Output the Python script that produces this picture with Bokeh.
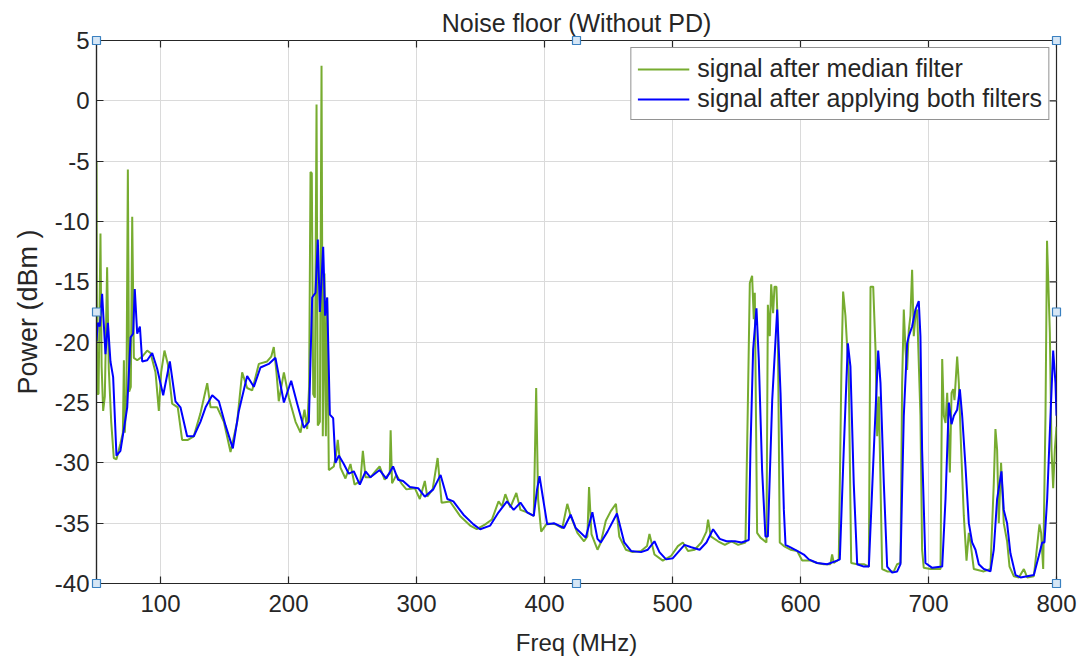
from bokeh.plotting import figure
from bokeh.models import Range1d, Legend, LegendItem, FixedTicker
from bokeh.embed import file_html
from bokeh.resources import INLINE

# ---------------- data ----------------
title_text = "Noise floor (Without PD)"
x_label = "Freq (MHz)"
y_label = "Power (dBm )"
series_names = ["signal after median filter", "signal after applying both filters"]

x_min, x_max = 50, 800
y_min, y_max = -40, 5
x_ticks = [100, 200, 300, 400, 500, 600, 700, 800]
y_ticks = [-40, -35, -30, -25, -20, -15, -10, -5, 0, 5]

freq_median = [
    50.0, 50.5, 51.6, 53.1, 54.0, 55.2, 56.5, 58.3, 59.6, 61.5, 63.5, 65.6, 68.7, 70.6, 71.4, 72.1,
    73.4, 74.5, 75.5, 76.8, 77.9, 79.2, 81.8, 85.7, 89.6, 92.2, 96.1, 98.7, 100.5, 103.1, 105.7,
    109.1, 113.5, 116.9, 121.4, 126.0, 131.2, 136.5, 139.1, 144.3, 149.5, 154.7, 159.9, 163.8,
    167.7, 171.6, 176.8, 183.3, 186.5, 188.5, 190.6, 192.4, 196.4, 200.3, 205.5, 209.4, 212.5,
    214.6, 216.1, 217.2, 218.2, 219.3, 220.6, 221.9, 222.9, 224.5, 225.8, 226.8, 228.1, 229.2,
    230.2, 231.5, 235.4, 237.2, 238.5, 240.6, 244.5, 248.4, 251.6, 256.2, 258.1, 260.2, 264.0,
    268.6, 271.2, 275.1, 277.7, 279.1, 279.8, 280.9, 284.3, 288.2, 292.1, 298.7, 302.6, 306.5,
    308.4, 312.6, 316.5, 319.6, 326.2, 334.0, 341.9, 347.1, 353.7, 358.9, 364.1, 366.8, 369.4,
    373.3, 378.0, 381.2, 386.4, 391.6, 393.5, 395.0, 397.4, 402.1, 408.6, 413.9, 417.8, 420.4,
    425.7, 430.9, 433.5, 434.8, 436.7, 441.4, 444.0, 447.9, 451.8, 455.8, 458.4, 463.6, 468.9,
    475.4, 480.1, 482.0, 485.9, 492.4, 499.0, 504.2, 508.1, 512.1, 517.3, 522.5, 526.5, 527.8,
    529.9, 535.6, 540.9, 546.1, 551.3, 557.0, 558.8, 560.4, 562.2, 563.5, 564.3, 566.1, 568.7,
    573.4, 574.5, 576.0, 577.1, 578.6, 579.7, 581.2, 582.3, 583.8, 587.0, 592.2, 597.4, 601.3,
    607.8, 613.0, 618.2, 623.4, 624.7, 626.0, 629.9, 632.0, 633.3, 635.1, 636.4, 637.7, 639.6,
    644.3, 649.5, 653.4, 654.7, 656.8, 658.6, 659.9, 661.2, 662.5, 663.8, 667.7, 672.9, 675.5,
    678.1, 679.4, 680.7, 682.0, 683.3, 684.6, 685.9, 687.2, 688.5, 689.8, 691.1, 693.7, 695.0,
    696.3, 701.5, 709.4, 710.7, 712.0, 713.3, 714.6, 716.7, 718.0, 719.3, 720.3, 722.4, 723.7,
    725.5, 727.6, 729.7, 731.5, 732.8, 735.4, 743.2, 748.4, 751.0, 752.3, 753.6, 754.9, 756.7,
    758.8, 761.4, 763.3, 766.7, 770.6, 774.5, 777.1, 782.3, 786.7, 788.0, 789.6, 791.4, 792.6,
    794.8, 796.1, 797.4, 798.7, 800.0,
]
power_median = [
    -5.0, -24.3, -24.3, -11.0, -22.0, -25.7, -24.5, -13.8, -22.2, -26.6, -29.6, -29.7, -28.4, -27.5, -21.5, -27.5,
    -24.3, -5.7, -24.1, -23.7, -9.6, -21.3, -21.5, -21.2, -20.7, -20.9, -22.5, -25.7, -22.5, -20.7, -21.8,
    -25.1, -25.4, -28.1, -28.1, -27.8, -25.9, -23.4, -25.4, -25.4, -26.6, -29.1, -26.6, -22.5,
    -23.8, -24.0, -21.8, -21.6, -21.2, -20.4, -22.5, -24.9, -22.5, -24.6, -26.6, -27.5, -25.6,
    -27.2, -23.7, -5.9, -6.0, -24.3, -24.6, -0.3, -26.9, -26.6, 2.9, -27.8, -14.3, -27.8,
    -16.3, -30.6, -30.3, -29.3, -28.1, -30.4, -31.3, -30.1, -31.8, -31.5, -29.0, -31.2, -31.2,
    -30.6, -30.3, -31.4, -31.0, -30.9, -27.3, -31.7, -31.0, -31.7, -32.2, -32.1, -33.0, -31.5,
    -32.8, -32.2, -29.6, -33.3, -33.2, -34.4, -35.2, -35.5, -35.1, -34.7, -33.2, -33.6, -32.6,
    -33.7, -32.5, -33.9, -34.1, -34.4, -23.8, -33.0, -35.7, -35.0, -35.1, -35.4, -33.4, -34.4,
    -35.8, -36.5, -36.1, -32.0, -35.9, -37.2, -36.6, -34.8, -34.0, -33.4, -36.1, -37.2, -37.4,
    -37.3, -36.9, -35.9, -37.6, -38.1, -37.7, -36.9, -36.6, -37.3, -37.2, -36.6, -35.7, -34.7,
    -36.1, -36.5, -36.8, -36.5, -36.8, -36.6, -25.6, -15.1, -14.5, -18.1, -15.9, -35.8, -36.2,
    -36.6, -16.9, -19.5, -15.2, -17.6, -15.4, -15.4, -19.0, -36.6, -36.9, -37.2, -37.3, -38.1,
    -38.1, -38.3, -38.4, -38.4, -37.6, -38.3, -38.0, -22.0, -15.8, -17.8, -20.3, -22.8, -38.3,
    -38.4, -38.4, -38.6, -15.4, -15.4, -20.6, -27.8, -24.5, -31.7, -38.8, -39.0, -39.0, -38.4,
    -38.3, -23.4, -17.3, -20.6, -22.3, -19.0, -17.8, -14.0, -19.5, -17.8, -17.3, -26.1, -37.2,
    -38.7, -38.8, -38.8, -21.4, -26.1, -26.7, -24.2, -30.8, -24.2, -23.9, -24.8, -21.2, -23.4,
    -28.9, -34.4, -38.1, -35.8, -36.6, -38.8, -39.0, -38.8, -31.7, -27.2, -28.9, -35.0, -30.0,
    -35.0, -36.5, -38.6, -39.4, -39.5, -38.8, -39.5, -39.4, -35.1, -35.8, -38.8, -26.1, -11.6,
    -19.2, -28.9, -32.1, -28.9, -27.0,
]

freq_both = [
    50.0, 51.0, 52.6, 54.4, 57.0, 58.9, 60.9, 63.0, 65.6, 68.7, 71.4, 74.0, 76.6, 78.6, 79.9, 81.8,
    83.9, 85.7, 89.6, 93.5, 97.4, 102.1, 107.3, 111.7, 115.6, 120.8, 126.0, 131.2, 135.2, 140.4,
    145.6, 150.8, 156.5, 161.2, 167.7, 172.9, 178.1, 184.6, 189.8, 196.4, 202.1, 206.8, 212.0,
    215.9, 218.5, 221.1, 222.9, 224.5, 227.1, 228.6, 230.2, 232.3, 234.9, 236.7, 239.3, 243.2,
    247.1, 251.0, 255.7, 260.2, 264.0, 271.2, 276.4, 281.7, 285.6, 289.5, 294.8, 301.3, 306.5,
    313.1, 318.8, 324.1, 328.8, 336.7, 344.5, 349.7, 357.6, 364.1, 370.7, 375.9, 381.2, 386.4,
    391.6, 394.2, 396.1, 398.2, 402.1, 407.3, 415.2, 420.4, 424.4, 432.2, 437.4, 441.4, 444.0,
    449.2, 456.6, 462.3, 467.6, 475.4, 480.7, 485.9, 489.8, 495.0, 500.3, 509.4, 514.7, 521.2,
    526.5, 531.7, 536.9, 542.2, 548.7, 554.0, 559.6, 560.9, 563.0, 565.6, 567.4, 570.0, 572.6,
    574.5, 577.9, 581.8, 584.4, 587.0, 588.3, 592.2, 597.4, 602.6, 606.5, 613.0, 620.8, 628.6,
    630.7, 633.8, 637.0, 639.0, 641.6, 644.3, 649.5, 653.4, 657.3, 660.7, 662.5, 665.1, 667.7,
    671.6, 675.5, 678.1, 680.7, 683.3, 684.6, 687.2, 689.8, 692.4, 693.7, 695.0, 697.6, 702.9,
    710.7, 713.3, 715.9, 718.0, 719.8, 722.4, 724.5, 726.3, 728.9, 731.5, 734.1, 736.7, 739.3,
    743.2, 748.4, 751.0, 753.6, 757.0, 758.8, 761.4, 764.0, 768.0, 771.9, 777.1, 782.3, 786.2,
    788.8, 790.6, 792.7, 795.3, 797.4, 799.2, 800.0,
]
power_both = [
    -19.9, -18.4, -18.7, -16.0, -21.0, -18.4, -21.6, -22.9, -29.4, -29.0, -27.2, -25.4, -19.6, -19.3, -15.6, -19.3,
    -18.7, -21.6, -21.5, -20.9, -22.2, -24.4, -21.6, -24.9, -25.4, -27.8, -27.8, -26.6, -25.4, -24.4,
    -24.9, -26.9, -28.8, -25.7, -22.8, -23.7, -22.1, -21.8, -21.3, -25.0, -23.2, -25.1, -27.1,
    -26.6, -16.3, -15.9, -11.5, -17.5, -12.1, -17.8, -16.3, -26.0, -26.3, -30.0, -29.4, -30.1,
    -30.9, -30.7, -31.8, -30.7, -31.2, -30.6, -31.3, -30.3, -31.4, -31.5, -32.0, -32.1, -32.8,
    -32.2, -31.0, -33.0, -33.2, -34.3, -35.1, -35.5, -35.2, -34.1, -33.2, -33.9, -33.3, -34.1,
    -34.4, -32.2, -31.1, -32.5, -35.1, -35.0, -35.4, -34.3, -35.4, -36.2, -34.1, -36.3, -36.6,
    -35.7, -34.2, -36.6, -37.3, -37.4, -37.2, -36.5, -37.4, -38.0, -37.9, -36.8, -37.0, -37.2,
    -36.6, -35.5, -36.3, -36.5, -36.5, -36.6, -36.4, -28.9, -20.6, -17.2, -21.4, -30.6, -36.1,
    -36.1, -24.8, -17.3, -24.2, -33.9, -36.8, -37.0, -37.3, -37.6, -38.0, -38.3, -38.4, -38.1,
    -38.0, -28.9, -20.1, -22.0, -31.7, -38.4, -38.6, -38.6, -28.9, -20.7, -23.4, -31.7, -38.6,
    -39.1, -39.0, -38.4, -26.1, -20.1, -19.5, -18.7, -17.3, -16.6, -19.5, -28.9, -38.3, -38.7,
    -38.6, -33.0, -25.0, -26.8, -26.1, -25.6, -23.9, -26.1, -30.3, -35.0, -36.6, -37.2, -38.4,
    -38.8, -39.0, -37.2, -33.0, -30.7, -33.9, -35.0, -37.5, -39.3, -39.5, -39.4, -39.3, -37.7,
    -36.6, -36.6, -33.0, -26.1, -20.7, -23.4, -26.1,
]

# ---------------- styling ----------------
FONT = "Liberation Sans"
INK = "#262626"
GREEN = "#77AC30"
BLUE = "#0000FF"

W, H = 1081, 662
B_LEFT, B_RIGHT, B_TOP, B_BOTTOM = 96, 25, 40, 79
TICK_PX = 7

p = figure(
    width=W, height=H,
    x_range=Range1d(x_min, x_max), y_range=Range1d(y_min, y_max),
    output_backend="svg", toolbar_location=None,
    min_border_left=B_LEFT, min_border_right=B_RIGHT,
    min_border_top=B_TOP, min_border_bottom=B_BOTTOM,
)
p.background_fill_color = "white"
p.border_fill_color = "white"
p.outline_line_color = INK
p.outline_line_width = 1.2

p.title.text = title_text
p.title.align = "center"
p.title.text_font = FONT
p.title.text_font_size = "25px"
p.title.text_font_style = "normal"
p.title.text_color = INK
p.title.standoff = 8

xa = p.xaxis[0]
ya = p.yaxis[0]
xa.ticker = FixedTicker(ticks=x_ticks)
ya.ticker = FixedTicker(ticks=y_ticks)
xa.major_label_overrides = {t: str(t) for t in x_ticks}
ya.major_label_overrides = {t: str(t) for t in y_ticks}
xa.axis_label = x_label
ya.axis_label = y_label
for ax in (xa, ya):
    ax.major_tick_in = TICK_PX
    ax.major_tick_out = 0
    ax.minor_tick_line_color = None
    ax.axis_line_color = INK
    ax.axis_line_width = 1.2
    ax.major_tick_line_color = INK
    ax.major_tick_line_width = 1.2
    ax.major_label_text_font = FONT
    ax.major_label_text_font_size = "24px"
    ax.major_label_text_color = INK
    ax.axis_label_text_font = FONT
    ax.axis_label_text_font_style = "normal"
    ax.axis_label_text_color = INK
xa.major_label_standoff = 11
xa.axis_label_text_font_size = "24px"
xa.axis_label_standoff = 14
ya.major_label_standoff = 7
ya.axis_label_text_font_size = "27px"
ya.axis_label_standoff = 9

p.xgrid.ticker = FixedTicker(ticks=x_ticks)
p.ygrid.ticker = FixedTicker(ticks=y_ticks)
p.grid.grid_line_color = "#dadada"
p.grid.grid_line_width = 1

# inward ticks on the top and right edges of the box (MATLAB "box on")
frame_w = W - B_LEFT - B_RIGHT
frame_h = H - B_TOP - B_BOTTOM
dx = TICK_PX * (x_max - x_min) / frame_w
dy = TICK_PX * (y_max - y_min) / frame_h
p.segment(x0=x_ticks, y0=[y_max] * len(x_ticks), x1=x_ticks, y1=[y_max - dy] * len(x_ticks),
          line_color=INK, line_width=1.2)
p.segment(x0=[x_max] * len(y_ticks), y0=y_ticks, x1=[x_max - dx] * len(y_ticks), y1=y_ticks,
          line_color=INK, line_width=1.2)

g = p.line(freq_median, power_median, line_color=GREEN, line_width=2)
b = p.line(freq_both, power_both, line_color=BLUE, line_width=2)

# selection handles on the axes box (corners and edge midpoints)
x_mid = (x_min + x_max) / 2
y_mid = (y_min + y_max) / 2
hx = [x_min, x_mid, x_max, x_min, x_max, x_min, x_mid, x_max]
hy = [y_max, y_max, y_max, y_mid, y_mid, y_min, y_min, y_min]
p.scatter(hx, hy, marker="square", size=8, fill_color="#d6e6f5", line_color="#3a80c0",
          line_width=1.2, level="overlay")

legend = Legend(
    items=[LegendItem(label=series_names[0], renderers=[g]),
           LegendItem(label=series_names[1], renderers=[b])],
    location="top_right",
    margin=7,
    padding=6,
    spacing=1,
    glyph_width=52,
    glyph_height=26,
    label_height=26,
    label_standoff=8,
    label_text_font=FONT,
    label_text_font_size="25px",
    label_text_color=INK,
    border_line_color=INK,
    border_line_width=1,
    background_fill_color="white",
    background_fill_alpha=1.0,
)
p.add_layout(legend)

open("out.html", "w").write(file_html(p, INLINE))
